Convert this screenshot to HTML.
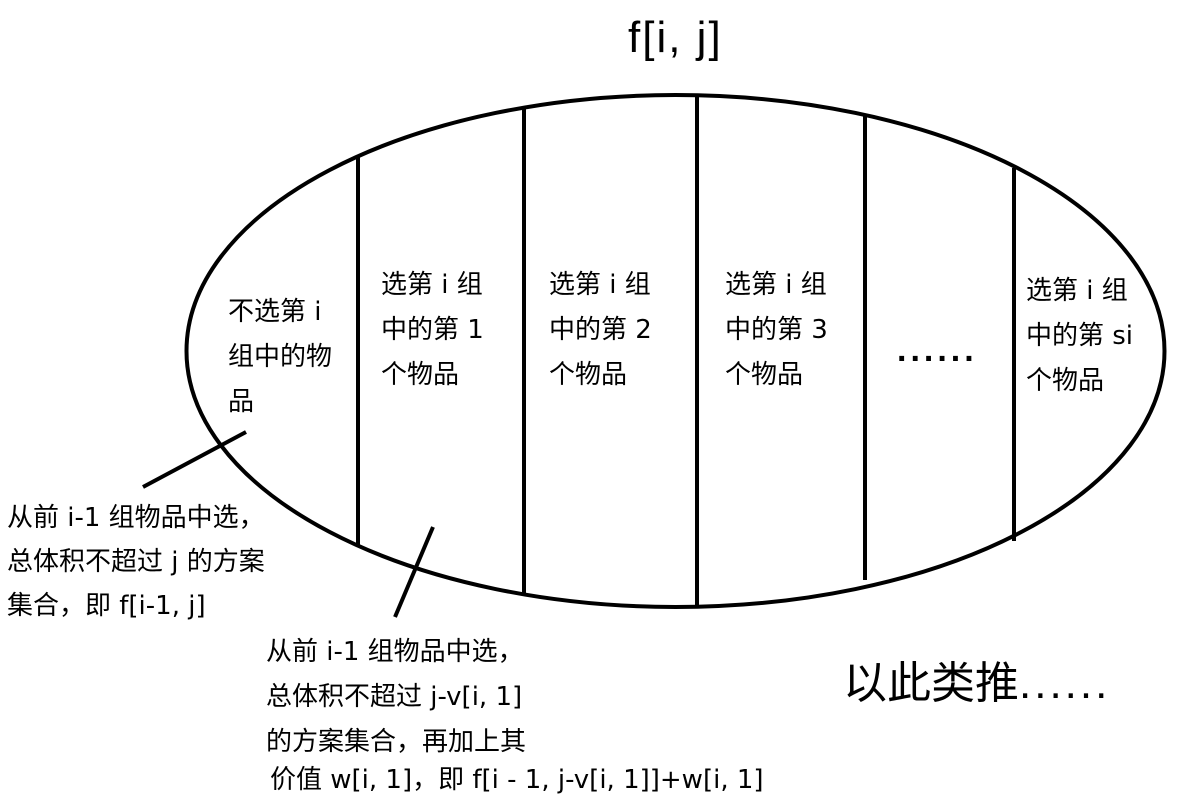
<!DOCTYPE html>
<html><head><meta charset="utf-8"><style>
body{margin:0;width:1180px;height:807px;background:#fff;position:relative;overflow:hidden;font-family:"DejaVu Sans","Noto Sans CJK SC",sans-serif;color:#000}
.t{position:absolute;font-size:26px;line-height:45px;white-space:nowrap}
</style></head><body>
<svg width="1180" height="807" style="position:absolute;left:0;top:0">
<g stroke="#000" stroke-width="4" fill="none">
<ellipse cx="675.5" cy="351" rx="489" ry="256"/>
<line x1="358" y1="157" x2="358" y2="545"/>
<line x1="524" y1="108" x2="524" y2="593"/>
<line x1="697" y1="97" x2="697" y2="606"/>
<line x1="865" y1="115" x2="865" y2="580"/>
<line x1="1014" y1="168" x2="1014" y2="541"/>
<line x1="246" y1="432" x2="143" y2="487"/>
<line x1="433" y1="527" x2="395" y2="617"/>
</g></svg>
<div class="t" style="left:628px;top:10px;font-size:44px;line-height:56px;font-family:'Liberation Sans',sans-serif;letter-spacing:2px">f[i, j]</div>
<div class="t" style="left:228px;top:290px">不选第 i<br>组中的物<br>品</div>
<div class="t" style="left:381px;top:263px">选第 i 组<br>中的第 1<br>个物品</div>
<div class="t" style="left:549px;top:263px">选第 i 组<br>中的第 2<br>个物品</div>
<div class="t" style="left:725px;top:263px">选第 i 组<br>中的第 3<br>个物品</div>
<div class="t" style="left:897px;top:328px;font-family:'Liberation Sans',sans-serif;font-size:34px;font-weight:bold;letter-spacing:4px">......</div>
<div class="t" style="left:1026px;top:269px">选第 i 组<br>中的第 si<br>个物品</div>
<div class="t" style="left:7px;top:496px;line-height:44px">从前 i-1 组物品中选，<br>总体积不超过 j 的方案<br>集合，即 f[i-1, j]</div>
<div class="t" style="left:266px;top:630px;line-height:45px">从前 i-1 组物品中选，<br>总体积不超过 j-v[i, 1]<br>的方案集合，再加上其</div>
<div class="t" style="left:270px;top:758px;line-height:45px">价值 w[i, 1]，即 f[i - 1, j-v[i, 1]]+w[i, 1]</div>
<div class="t" style="left:843px;top:656px;font-size:44px;line-height:56px">以此类推<span style="font-family:'Liberation Sans',sans-serif;font-size:44px;letter-spacing:3px">......</span></div>
</body></html>
